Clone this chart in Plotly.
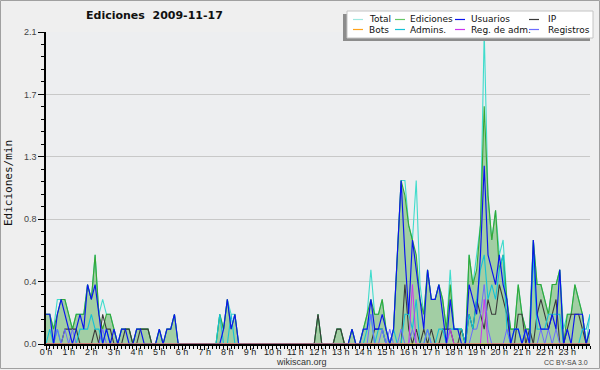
import plotly.graph_objects as go

# ---------------- data (edits per minute, 10-minute slots, 0h..24h) ----------------
minutes = list(range(0, 1441, 10))
hour_labels = [f"{h} h" for h in range(24)]
y_tickvals = [0.0, 0.42, 0.84, 1.26, 1.68, 2.1]
y_ticktext = ["0.0", "0.4", "0.8", "1.3", "1.7", "2.1"]

total = [
    0.2, 0.2, 0.1, 0.3, 0.3, 0.3,
    0.2, 0.1, 0.2, 0.2, 0.2, 0.4,
    0.3, 0.6, 0.2, 0.3, 0.2, 0.2,
    0.1, 0.0, 0.1, 0.1, 0.1, 0.0,
    0.1, 0.1, 0.1, 0.1, 0.0, 0.0,
    0.1, 0.0, 0.1, 0.1, 0.2, 0.0,
    0.0, 0.0, 0.0, 0.0, 0.0, 0.0,
    0.0, 0.0, 0.0, 0.0, 0.2, 0.1,
    0.3, 0.2, 0.2, 0.0, 0.0, 0.0,
    0.0, 0.0, 0.0, 0.0, 0.0, 0.0,
    0.0, 0.0, 0.0, 0.0, 0.0, 0.0,
    0.0, 0.0, 0.0, 0.0, 0.0, 0.0,
    0.2, 0.0, 0.0, 0.0, 0.0, 0.1,
    0.1, 0.0, 0.0, 0.1, 0.0, 0.0,
    0.1, 0.2, 0.5, 0.2, 0.2, 0.3,
    0.1, 0.0, 0.1, 0.6, 1.1, 1.1,
    0.8, 0.7, 1.1, 0.4, 0.2, 0.5,
    0.3, 0.3, 0.4, 0.3, 0.1, 0.5,
    0.1, 0.1, 0.1, 0.0, 0.6, 0.4,
    0.6, 0.8, 2.1, 1.0, 0.7, 0.9,
    0.6, 0.7, 0.3, 0.1, 0.1, 0.4,
    0.2, 0.1, 0.1, 0.7, 0.4, 0.4,
    0.3, 0.2, 0.4, 0.4, 0.5, 0.1,
    0.2, 0.2, 0.4, 0.3, 0.2, 0.0,
    0.2,
]

ediciones = [
    0.2, 0.2, 0.1, 0.2, 0.3, 0.3,
    0.2, 0.1, 0.2, 0.2, 0.2, 0.4,
    0.3, 0.6, 0.2, 0.1, 0.2, 0.2,
    0.1, 0.0, 0.1, 0.1, 0.1, 0.0,
    0.1, 0.1, 0.1, 0.1, 0.0, 0.0,
    0.1, 0.0, 0.1, 0.1, 0.2, 0.0,
    0.0, 0.0, 0.0, 0.0, 0.0, 0.0,
    0.0, 0.0, 0.0, 0.0, 0.2, 0.1,
    0.3, 0.1, 0.2, 0.0, 0.0, 0.0,
    0.0, 0.0, 0.0, 0.0, 0.0, 0.0,
    0.0, 0.0, 0.0, 0.0, 0.0, 0.0,
    0.0, 0.0, 0.0, 0.0, 0.0, 0.0,
    0.2, 0.0, 0.0, 0.0, 0.0, 0.1,
    0.1, 0.0, 0.0, 0.1, 0.0, 0.0,
    0.1, 0.2, 0.3, 0.2, 0.2, 0.3,
    0.1, 0.0, 0.1, 0.6, 1.1, 1.0,
    0.8, 0.7, 0.6, 0.3, 0.2, 0.5,
    0.3, 0.3, 0.4, 0.3, 0.1, 0.4,
    0.1, 0.1, 0.1, 0.0, 0.6, 0.4,
    0.5, 0.8, 1.6, 1.0, 0.7, 0.9,
    0.5, 0.6, 0.3, 0.1, 0.1, 0.4,
    0.2, 0.1, 0.1, 0.7, 0.4, 0.4,
    0.3, 0.2, 0.4, 0.4, 0.5, 0.0,
    0.2, 0.2, 0.4, 0.3, 0.2, 0.0,
    0.1,
]

usuarios = [
    0.2, 0.2, 0.0, 0.2, 0.3, 0.2,
    0.1, 0.0, 0.1, 0.2, 0.1, 0.4,
    0.3, 0.4, 0.2, 0.0, 0.1, 0.0,
    0.1, 0.0, 0.1, 0.1, 0.0, 0.0,
    0.1, 0.1, 0.0, 0.0, 0.0, 0.0,
    0.1, 0.0, 0.1, 0.1, 0.2, 0.0,
    0.0, 0.0, 0.0, 0.0, 0.0, 0.0,
    0.0, 0.0, 0.0, 0.0, 0.0, 0.1,
    0.3, 0.1, 0.2, 0.0, 0.0, 0.0,
    0.0, 0.0, 0.0, 0.0, 0.0, 0.0,
    0.0, 0.0, 0.0, 0.0, 0.0, 0.0,
    0.0, 0.0, 0.0, 0.0, 0.0, 0.0,
    0.0, 0.0, 0.0, 0.0, 0.0, 0.0,
    0.0, 0.0, 0.0, 0.1, 0.0, 0.0,
    0.1, 0.1, 0.3, 0.1, 0.1, 0.2,
    0.1, 0.0, 0.1, 0.6, 1.1, 0.6,
    0.2, 0.7, 0.5, 0.3, 0.1, 0.5,
    0.3, 0.3, 0.4, 0.2, 0.0, 0.3,
    0.1, 0.1, 0.0, 0.0, 0.4, 0.3,
    0.2, 0.6, 1.2, 0.6, 0.5, 0.4,
    0.6, 0.4, 0.3, 0.0, 0.1, 0.1,
    0.0, 0.1, 0.0, 0.7, 0.2, 0.1,
    0.1, 0.1, 0.2, 0.1, 0.5, 0.0,
    0.1, 0.0, 0.2, 0.2, 0.2, 0.0,
    0.1,
]

ip = [
    0.0, 0.0, 0.0, 0.0, 0.0, 0.1,
    0.1, 0.1, 0.1, 0.0, 0.0, 0.0,
    0.0, 0.1, 0.0, 0.2, 0.1, 0.1,
    0.0, 0.0, 0.0, 0.1, 0.1, 0.0,
    0.0, 0.1, 0.1, 0.1, 0.0, 0.0,
    0.0, 0.0, 0.0, 0.0, 0.0, 0.0,
    0.0, 0.0, 0.0, 0.0, 0.0, 0.0,
    0.0, 0.0, 0.0, 0.0, 0.0, 0.0,
    0.0, 0.0, 0.0, 0.0, 0.0, 0.0,
    0.0, 0.0, 0.0, 0.0, 0.0, 0.0,
    0.0, 0.0, 0.0, 0.0, 0.0, 0.0,
    0.0, 0.0, 0.0, 0.0, 0.0, 0.0,
    0.2, 0.0, 0.0, 0.0, 0.0, 0.1,
    0.1, 0.0, 0.0, 0.0, 0.0, 0.0,
    0.0, 0.0, 0.0, 0.1, 0.1, 0.1,
    0.0, 0.0, 0.0, 0.0, 0.0, 0.4,
    0.1, 0.0, 0.1, 0.0, 0.1, 0.0,
    0.1, 0.0, 0.0, 0.1, 0.1, 0.1,
    0.0, 0.0, 0.1, 0.0, 0.2, 0.1,
    0.3, 0.2, 0.1, 0.3, 0.2, 0.2,
    0.4, 0.3, 0.2, 0.0, 0.0, 0.2,
    0.2, 0.0, 0.1, 0.0, 0.2, 0.3,
    0.2, 0.1, 0.2, 0.3, 0.0, 0.0,
    0.1, 0.2, 0.2, 0.2, 0.1, 0.0,
    0.0,
]

bots = [0.0] * 145

admins = [
    0.0, 0.1, 0.0, 0.1, 0.0, 0.0,
    0.0, 0.0, 0.0, 0.1, 0.1, 0.1,
    0.2, 0.1, 0.1, 0.0, 0.1, 0.0,
    0.0, 0.0, 0.0, 0.0, 0.0, 0.0,
    0.0, 0.0, 0.0, 0.0, 0.0, 0.0,
    0.0, 0.0, 0.0, 0.0, 0.0, 0.0,
    0.0, 0.0, 0.0, 0.0, 0.0, 0.0,
    0.0, 0.0, 0.0, 0.0, 0.2, 0.0,
    0.0, 0.2, 0.0, 0.0, 0.0, 0.0,
    0.0, 0.0, 0.0, 0.0, 0.0, 0.0,
    0.0, 0.0, 0.0, 0.0, 0.0, 0.0,
    0.0, 0.0, 0.0, 0.0, 0.0, 0.0,
    0.0, 0.0, 0.0, 0.0, 0.0, 0.0,
    0.0, 0.0, 0.0, 0.0, 0.0, 0.0,
    0.0, 0.1, 0.2, 0.0, 0.1, 0.1,
    0.0, 0.0, 0.1, 0.0, 0.0, 0.2,
    0.2, 0.1, 0.3, 0.0, 0.0, 0.1,
    0.0, 0.0, 0.1, 0.1, 0.0, 0.1,
    0.1, 0.1, 0.1, 0.0, 0.2, 0.1,
    0.3, 0.5, 0.6, 0.3, 0.4, 0.3,
    0.5, 0.6, 0.1, 0.0, 0.1, 0.1,
    0.0, 0.1, 0.0, 0.6, 0.1, 0.1,
    0.1, 0.2, 0.2, 0.2, 0.2, 0.0,
    0.0, 0.0, 0.0, 0.0, 0.1, 0.1,
    0.2,
]

reg_adm = [0.0] * 145
reg_adm_points = {97: 0.4, 107: 0.1, 116: 0.3}
for k, v in reg_adm_points.items():
    reg_adm[k] = v

registros = [
    0.0, 0.0, 0.0, 0.1, 0.0, 0.1,
    0.0, 0.1, 0.0, 0.0, 0.0, 0.0,
    0.0, 0.0, 0.0, 0.1, 0.0, 0.0,
    0.0, 0.0, 0.0, 0.0, 0.0, 0.0,
    0.0, 0.0, 0.0, 0.0, 0.0, 0.0,
    0.0, 0.0, 0.0, 0.0, 0.0, 0.0,
    0.0, 0.0, 0.0, 0.0, 0.0, 0.0,
    0.0, 0.0, 0.0, 0.0, 0.0, 0.0,
    0.0, 0.0, 0.0, 0.0, 0.0, 0.0,
    0.0, 0.0, 0.0, 0.0, 0.0, 0.0,
    0.0, 0.0, 0.0, 0.0, 0.0, 0.0,
    0.0, 0.0, 0.0, 0.0, 0.0, 0.0,
    0.0, 0.0, 0.0, 0.0, 0.0, 0.0,
    0.0, 0.0, 0.0, 0.0, 0.0, 0.0,
    0.0, 0.0, 0.2, 0.0, 0.0, 0.1,
    0.0, 0.1, 0.0, 0.0, 0.1, 0.0,
    0.0, 0.1, 0.0, 0.0, 0.0, 0.1,
    0.0, 0.0, 0.0, 0.0, 0.0, 0.0,
    0.0, 0.0, 0.0, 0.0, 0.0, 0.1,
    0.1, 0.2, 0.4, 0.1, 0.0, 0.0,
    0.0, 0.0, 0.1, 0.0, 0.0, 0.0,
    0.0, 0.1, 0.0, 0.0, 0.0, 0.1,
    0.0, 0.1, 0.0, 0.1, 0.0, 0.0,
    0.0, 0.0, 0.0, 0.0, 0.0, 0.0,
    0.0,
]

colors = {
    "Total": "#3fdccc",
    "Ediciones": "#35a835",
    "Usuarios": "#0a14f0",
    "IP": "#3a3a3a",
    "Bots": "#ffa31a",
    "Admins.": "#14c2d6",
    "Reg. de adm.": "#cc33ee",
    "Registros": "#6c6cff",
}
legend_colors = dict(colors, **{"Total": "#9ee8e0", "Ediciones": "#66c866"})

hours = [m / 60 for m in minutes]

# ---------------- geometry helpers (pixel -> paper) ----------------
L, R, T, B = 46, 10, 32, 26
W, H = 600, 370
PW, PH = W - L - R, H - T - B


def px(x):
    return (x - L) / PW


def py(y):
    return (H - B - y) / PH


fig = go.Figure()

fig.add_trace(go.Scatter(x=hours, y=total, name="Total", mode="lines",
                         line=dict(color=colors["Total"], width=1.1), showlegend=False))
fig.add_trace(go.Scatter(x=hours, y=ediciones, name="Ediciones", mode="lines", fill="tozeroy",
                         fillcolor="rgba(30,150,30,0.36)",
                         line=dict(color=colors["Ediciones"], width=1.1), showlegend=False))
for name, vals, w in [("IP", ip, 1.1), ("Admins.", admins, 1.1), ("Registros", registros, 1.0),
                      ("Reg. de adm.", reg_adm, 1.0), ("Usuarios", usuarios, 1.15), ("Bots", bots, 1.0)]:
    fig.add_trace(go.Scatter(x=hours, y=vals, name=name, mode="lines",
                             line=dict(color=colors[name], width=w), showlegend=False))

shapes = []
annotations = []

# outer frame
shapes.append(dict(type="rect", xref="paper", yref="paper", layer="above",
                   x0=px(0.5), x1=px(599.5), y0=py(368.5), y1=py(0.5),
                   line=dict(color="#a0a0a0", width=1), fillcolor="rgba(0,0,0,0)"))

# legend box with shadow
shapes.append(dict(type="rect", xref="paper", yref="paper", layer="above",
                   x0=px(343), x1=px(590), y0=py(41), y1=py(14),
                   line=dict(width=0), fillcolor="#8c8c8c"))
shapes.append(dict(type="rect", xref="paper", yref="paper", layer="above",
                   x0=px(347), x1=px(593), y0=py(38), y1=py(11),
                   line=dict(color="#c4c4c4", width=1), fillcolor="#ffffff"))

legend_layout = [
    ("Total", 353, 367, 19.5), ("Ediciones", 395, 408, 19.5), ("Usuarios", 455, 469, 19.5), ("IP", 529, 546, 19.5),
    ("Bots", 353, 367, 29.5), ("Admins.", 395, 408, 29.5), ("Reg. de adm.", 455, 469, 29.5), ("Registros", 529, 546, 29.5),
]
for name, lx, tx, ry in legend_layout:
    shapes.append(dict(type="line", xref="paper", yref="paper", layer="above",
                       x0=px(lx), x1=px(lx + 10), y0=py(ry), y1=py(ry),
                       line=dict(color=legend_colors[name], width=1.2)))
    annotations.append(dict(text=name, xref="paper", yref="paper", x=px(tx), y=py(ry),
                            xanchor="left", yanchor="middle", showarrow=False,
                            font=dict(family="DejaVu Sans", size=9, color="#111111")))

# title
annotations.append(dict(text="Ediciones\u00a0 2009-11-17", xref="paper", yref="paper",
                        x=px(154), y=py(16), xanchor="center", yanchor="middle", showarrow=False,
                        font=dict(family="DejaVu Sans", size=11, color="#111111", weight="bold")))
# y axis title
annotations.append(dict(text="Ediciones/min", xref="paper", yref="paper", textangle=-90,
                        x=px(9), y=py(183), xanchor="center", yanchor="middle", showarrow=False,
                        font=dict(family="DejaVu Sans Mono", size=11, color="#111111")))
# footer texts
annotations.append(dict(text="wikiscan.org", xref="paper", yref="paper",
                        x=px(301), y=py(362), xanchor="center", yanchor="middle", showarrow=False,
                        font=dict(family="Liberation Sans", size=9, color="#333333")))
annotations.append(dict(text="CC BY-SA 3.0", xref="paper", yref="paper",
                        x=px(590), y=py(362.5), xanchor="right", yanchor="middle", showarrow=False,
                        font=dict(family="Liberation Sans", size=7, color="#444444")))

fig.update_layout(
    width=W, height=H,
    margin=dict(l=L, r=R, t=T, b=B, autoexpand=False),
    paper_bgcolor="#efefef",
    plot_bgcolor="#edeef0",
    showlegend=False,
    shapes=shapes,
    annotations=annotations,
    xaxis=dict(
        range=[0, 24], tickmode="array", tickvals=list(range(24)), ticktext=hour_labels,
        ticks="outside", ticklen=4, tickwidth=1, tickcolor="#000000",
        ticklabelstandoff=-6,
        showgrid=False, zeroline=False, showline=True, linecolor="#000000", linewidth=2,
        tickfont=dict(family="Liberation Sans", size=9, color="#222222"),
        minor=dict(tick0=0, dtick=1 / 6, ticks="outside", ticklen=3, tickwidth=1,
                   tickcolor="#000000", showgrid=False),
        fixedrange=True,
    ),
    yaxis=dict(
        range=[0, 2.1], tickmode="array", tickvals=y_tickvals, ticktext=y_ticktext,
        ticks="outside", ticklen=6, tickwidth=1, tickcolor="#000000",
        showgrid=True, gridcolor="#c8c8c8", gridwidth=1, zeroline=False,
        showline=True, linecolor="#000000", linewidth=1.5,
        tickfont=dict(family="Liberation Sans", size=9, color="#444444"),
        minor=dict(tick0=0, dtick=0.084, ticks="outside", ticklen=3, tickwidth=1,
                   tickcolor="#000000", showgrid=False),
        fixedrange=True,
    ),
)

fig.write_html("out.html")
